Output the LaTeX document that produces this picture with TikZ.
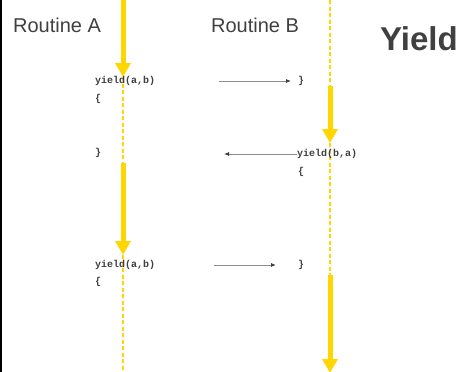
\documentclass[tikz,border=0pt]{standalone}
\usepackage{fontspec}
\setmainfont{Liberation Sans}
\newfontfamily\codefont{Liberation Mono}
\usetikzlibrary{arrows.meta}
\definecolor{ygold}{HTML}{FFD600}
\definecolor{txtgrey}{HTML}{404040}
\definecolor{linegrey}{HTML}{8C8C8C}
\tikzset{
  title/.style={font=\fontsize{20}{22}\selectfont, text=txtgrey, inner sep=0pt},
  bigtitle/.style={font=\fontsize{33}{36}\selectfont\bfseries, text=txtgrey, inner sep=0pt},
  code/.style={font=\codefont\bfseries\fontsize{10}{11}\selectfont, text=txtgrey, inner sep=0pt, anchor=west},
  active/.style={draw=ygold, line width=5pt, -{Triangle[width=15pt,length=14pt]}},
  idle/.style={draw=ygold, line width=1.3pt, dash pattern=on 4pt off 2.5pt},
  msg/.style={draw=linegrey, line width=0.8pt, -{Latex[length=5pt,width=4pt,color=txtgrey]}}
}
\begin{document}
\begin{tikzpicture}[x=1pt,y=-1pt]
\useasboundingbox (0,0) rectangle (461,372);
\fill[white] (0,0) rectangle (461,372);
\fill[black] (0,0) rectangle (2,372);

\node[title] (ra) at (57,25) {Routine A};
\node[title] (rb) at (255,25) {Routine B};
\node[bigtitle] (yt) at (419,39) {Yield};

% Routine A timeline
\coordinate (a0) at (123,0);
\coordinate (a1) at (123,77);
\coordinate (a2) at (123,163);
\coordinate (a3) at (123,255);
\coordinate (a4) at (123,372);
\draw[idle] (a1) -- (a2);
\draw[idle] (a3) -- (a4);
\draw[active] (a0) -- (a1);
\draw[active] (a2) -- (a3);

% Routine B timeline
\coordinate (b0) at (330,0);
\coordinate (b1) at (330,86);
\coordinate (b2) at (330,143);
\coordinate (b3) at (330,275);
\coordinate (b4) at (330,373);
\draw[idle] (b0) -- (b1);
\draw[idle] (b2) -- (b3);
\draw[active] (b1) -- (b2);
\draw[active] (b3) -- (b4);

% code
\node[code] (ya1) at (95,81) {yield(a,b)};
\node[code] (oa1) at (95,99) {\{};
\node[code] (ca1) at (95,153) {\}};
\node[code] (ya2) at (95,265) {yield(a,b)};
\node[code] (oa2) at (95,282) {\{};

\node[code] (cb1) at (298,81) {\}};
\node[code] (yb1) at (297,154) {yield(b,a)};
\node[code] (ob1) at (298,172) {\{};
\node[code] (cb2) at (298,265) {\}};

% messages
\coordinate (m1s) at (219,81);
\coordinate (m1e) at (291,81);
\draw[msg] (m1s) -- (m1e);
\coordinate (m2e) at (224,154);
\draw[msg] (yb1.west) -- (m2e);
\coordinate (m3s) at (214,265);
\coordinate (m3e) at (276,265);
\draw[msg] (m3s) -- (m3e);
\end{tikzpicture}
\end{document}
